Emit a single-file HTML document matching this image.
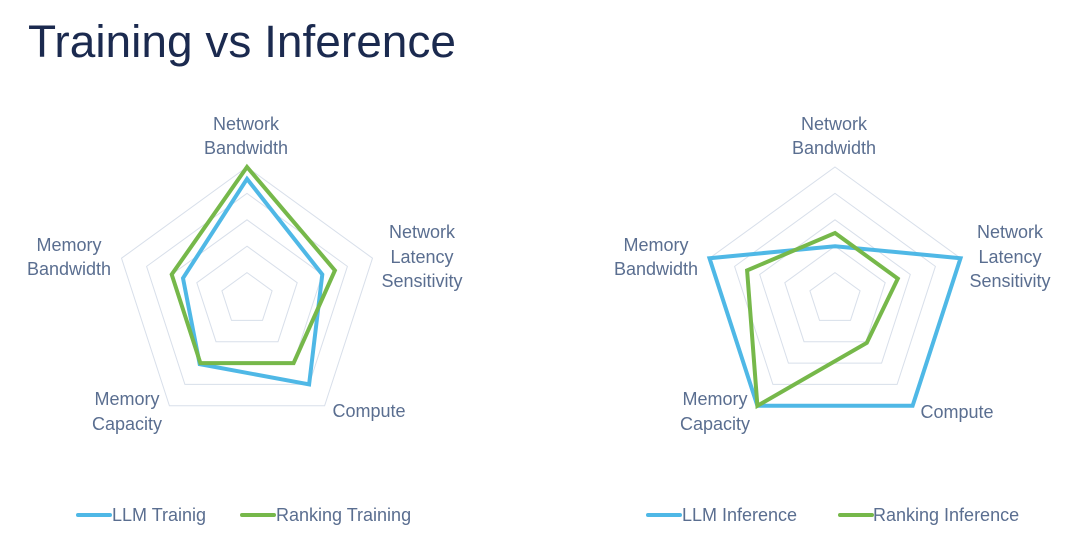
<!DOCTYPE html>
<html><head><meta charset="utf-8"><style>
html,body{margin:0;padding:0;background:#fff;width:1080px;height:551px;overflow:hidden}
svg{display:block}
text{font-family:"Liberation Sans",sans-serif}
.l{font-size:18px;fill:#5a6e90}
</style></head><body>
<svg id="s" width="1080" height="551" viewBox="0 0 1080 551" xmlns="http://www.w3.org/2000/svg">
<text x="28" y="57" font-size="45" fill="#1b2a4f" textLength="428" lengthAdjust="spacingAndGlyphs">Training vs Inference</text>
<g id="g"></g>
<g class="l" text-anchor="middle">
<text x="246" y="130">Network</text><text x="246" y="154">Bandwidth</text>
<text x="422" y="238">Network</text><text x="422" y="263">Latency</text><text x="422" y="287">Sensitivity</text>
<text x="69" y="251">Memory</text><text x="69" y="275">Bandwidth</text>
<text x="127" y="405">Memory</text><text x="127" y="430">Capacity</text>
<text x="369" y="417">Compute</text>
<text x="834" y="130">Network</text><text x="834" y="154">Bandwidth</text>
<text x="1010" y="238">Network</text><text x="1010" y="263">Latency</text><text x="1010" y="287">Sensitivity</text>
<text x="656" y="251">Memory</text><text x="656" y="275">Bandwidth</text>
<text x="715" y="405">Memory</text><text x="715" y="430">Capacity</text>
<text x="957" y="418">Compute</text>
</g>
<g stroke-width="4" stroke-linecap="round">
<line x1="78" y1="515" x2="110" y2="515" stroke="#4fb8e6"/>
<line x1="242" y1="515" x2="274" y2="515" stroke="#76b84a"/>
<line x1="648" y1="515" x2="680" y2="515" stroke="#4fb8e6"/>
<line x1="840" y1="515" x2="872" y2="515" stroke="#76b84a"/>
</g>
<g class="l">
<text x="112" y="521">LLM Trainig</text>
<text x="276" y="521">Ranking Training</text>
<text x="682" y="521">LLM Inference</text>
<text x="873" y="521">Ranking Inference</text>
</g>
</svg>
<script>
var g=document.getElementById('g'),R=132,cy=299,ns='http://www.w3.org/2000/svg';
function pts(cx,v){var a=[];for(var i=0;i<5;i++){var t=-Math.PI/2+i*2*Math.PI/5;a.push((cx+Math.cos(t)*R*v[i]).toFixed(1)+','+(cy+Math.sin(t)*R*v[i]).toFixed(1));}return a.join(' ');}
function poly(p,c,w){var e=document.createElementNS(ns,'polygon');e.setAttribute('points',p);e.setAttribute('fill','none');e.setAttribute('stroke',c);e.setAttribute('stroke-width',w);e.setAttribute('stroke-linejoin','miter');g.appendChild(e);}
[247,835].forEach(function(cx){for(var k=1;k<=5;k++){var f=k/5;poly(pts(cx,[f,f,f,f,f]),'#d8dfea',1);}});
poly(pts(247,[0.91,0.6,0.8,0.61,0.51]),'#4fb8e6',4);
poly(pts(247,[1,0.7,0.6,0.6,0.6]),'#76b84a',4);
poly(pts(835,[0.4,1,1,1,1]),'#4fb8e6',4);
poly(pts(835,[0.5,0.5,0.41,1,0.7]),'#76b84a',4);
</script>
</body></html>
